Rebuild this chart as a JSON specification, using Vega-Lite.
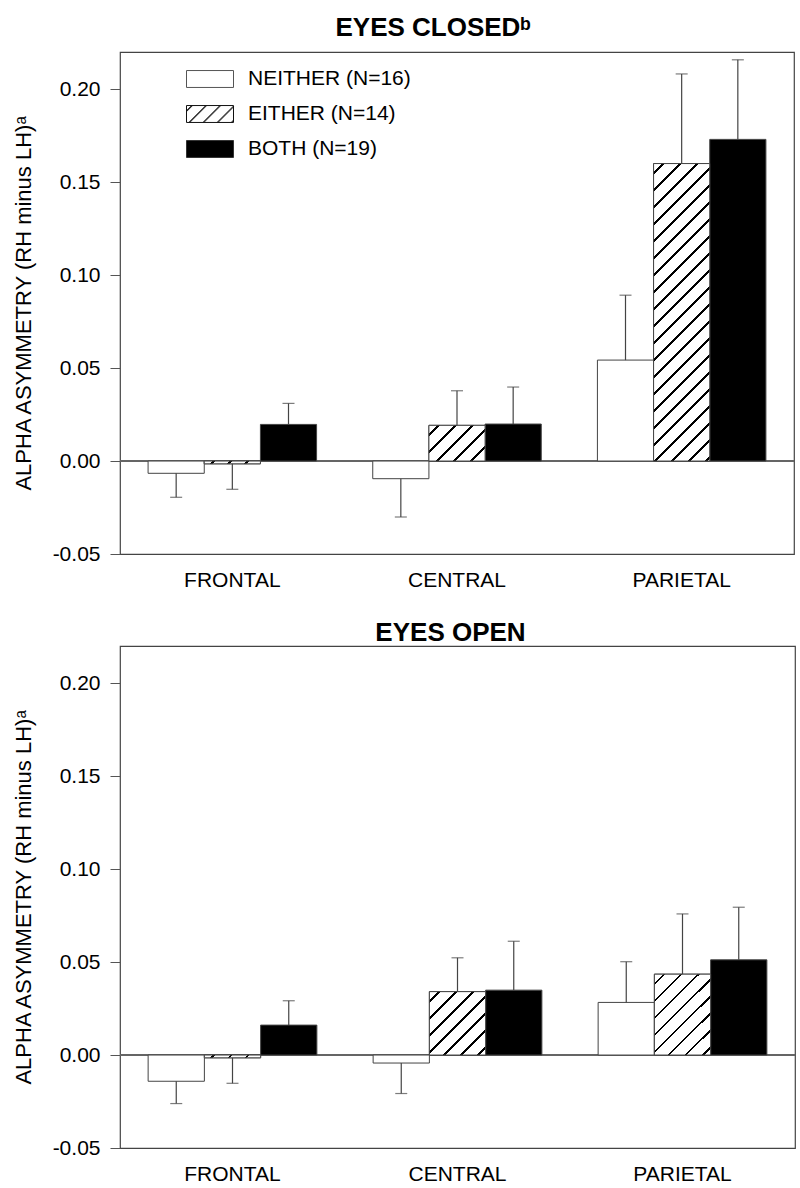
{
"$schema": "https://vega.github.io/schema/vega-lite/v6.json",
"padding": {"left": 11, "top": 14, "right": 5, "bottom": 5},
"config": {
 "font": "Liberation Sans",
 "view": {"stroke": "#444", "strokeWidth": 1.2},
 "title": {"fontSize": 26, "fontWeight": "bold", "color": "#000", "baseline": "alphabetic"},
 "axisY": {"tickSize": 10, "tickColor": "#555", "tickWidth": 1, "labelFontSize": 21, "labelColor": "#000", "labelPadding": 10, "titleFontSize": 22, "titleFontWeight": "normal", "titleColor": "#000", "titlePadding": 17, "labelFlush": false, "labelOverlap": false, "domain": false, "grid": false},
 "axisX": {"ticks": false, "tickSize": 0, "labelFontSize": 21, "labelColor": "#000", "labelPadding": 15, "labelAngle": 0, "domain": false, "grid": false}
},
"data": {"values": [
 {"panel": "closed", "region": "FRONTAL", "group": "NEITHER (N=16)", "mean": -0.0066, "errEnd": -0.0195},
 {"panel": "closed", "region": "FRONTAL", "group": "EITHER (N=14)", "mean": -0.0015, "errEnd": -0.0152},
 {"panel": "closed", "region": "FRONTAL", "group": "BOTH (N=19)", "mean": 0.0197, "errEnd": 0.0310},
 {"panel": "closed", "region": "CENTRAL", "group": "NEITHER (N=16)", "mean": -0.0095, "errEnd": -0.0301},
 {"panel": "closed", "region": "CENTRAL", "group": "EITHER (N=14)", "mean": 0.0192, "errEnd": 0.0378},
 {"panel": "closed", "region": "CENTRAL", "group": "BOTH (N=19)", "mean": 0.0199, "errEnd": 0.0398},
 {"panel": "closed", "region": "PARIETAL", "group": "NEITHER (N=16)", "mean": 0.0543, "errEnd": 0.0892},
 {"panel": "closed", "region": "PARIETAL", "group": "EITHER (N=14)", "mean": 0.1600, "errEnd": 0.2082},
 {"panel": "closed", "region": "PARIETAL", "group": "BOTH (N=19)", "mean": 0.1730, "errEnd": 0.2158},
 {"panel": "open", "region": "FRONTAL", "group": "NEITHER (N=16)", "mean": -0.0141, "errEnd": -0.0261},
 {"panel": "open", "region": "FRONTAL", "group": "EITHER (N=14)", "mean": -0.0015, "errEnd": -0.0152},
 {"panel": "open", "region": "FRONTAL", "group": "BOTH (N=19)", "mean": 0.0161, "errEnd": 0.0292},
 {"panel": "open", "region": "CENTRAL", "group": "NEITHER (N=16)", "mean": -0.0043, "errEnd": -0.0207},
 {"panel": "open", "region": "CENTRAL", "group": "EITHER (N=14)", "mean": 0.0341, "errEnd": 0.0523},
 {"panel": "open", "region": "CENTRAL", "group": "BOTH (N=19)", "mean": 0.0349, "errEnd": 0.0612},
 {"panel": "open", "region": "PARIETAL", "group": "NEITHER (N=16)", "mean": 0.0283, "errEnd": 0.0502},
 {"panel": "open", "region": "PARIETAL", "group": "EITHER (N=14)", "mean": 0.0435, "errEnd": 0.0759},
 {"panel": "open", "region": "PARIETAL", "group": "BOTH (N=19)", "mean": 0.0512, "errEnd": 0.0795}
]},
"spacing": 28,
"resolve": {"scale": {"fill": "independent", "shape": "independent", "stroke": "independent", "x": "independent", "y": "independent", "xOffset": "independent"}, "legend": {"fill": "independent", "shape": "independent", "stroke": "independent"}},
"vconcat": [
{
 "width": 674, "height": 502,
 "title": {"text": "EYES CLOSEDᵇ", "offset": 11, "dx": -24},
 "transform": [{"filter": "datum.panel == 'closed'"}],
 "layer": [
  {"mark": {"type": "rule", "color": "#666", "strokeWidth": 1}, "encoding": {"y": {"datum": 0}}},
  {"mark": {"type": "bar", "stroke": "#444", "strokeWidth": 1},
   "encoding": {
    "x": {"field": "region", "type": "nominal", "title": null, "sort": ["FRONTAL", "CENTRAL", "PARIETAL"], "scale": {"domain": ["FRONTAL", "CENTRAL", "PARIETAL"], "paddingInner": 0.25, "paddingOuter": 0.125}},
    "xOffset": {"field": "group", "type": "nominal", "scale": {"domain": ["NEITHER (N=16)", "EITHER (N=14)", "BOTH (N=19)"], "paddingInner": 0, "paddingOuter": 0}},
    "y": {"field": "mean", "type": "quantitative", "title": "ALPHA ASYMMETRY (RH minus LH)ᵃ", "scale": {"domain": [-0.05, 0.22], "nice": false, "zero": false}, "axis": {"values": [-0.05, 0, 0.05, 0.1, 0.15, 0.2], "labelExpr": "replace(format(datum.value, '.2f'), '\u2212', '-')"}},
    "fill": {"condition": {"test": "datum.group == 'BOTH (N=19)'", "value": "#000"}, "value": "#fff"}
   }},
  {"mark": {"type": "point", "filled": true, "size": 0, "strokeWidth": 1, "opacity": 1},
   "encoding": {
    "fill": {"field": "group", "type": "nominal", "scale": {"domain": ["NEITHER (N=16)", "EITHER (N=14)", "BOTH (N=19)"], "range": ["#fff", "#fff", "#000"]},
     "legend": {"title": null, "orient": "none", "legendX": 66, "legendY": 3, "symbolSize": 2209, "symbolStrokeWidth": 1, "symbolOpacity": 1, "labelFontSize": 21, "labelColor": "#000", "labelOffset": 14, "labelLimit": 400, "rowPadding": -21}},
    "shape": {"field": "group", "type": "nominal", "scale": {"domain": ["NEITHER (N=16)", "EITHER (N=14)", "BOTH (N=19)"], "range": ["M-1,-0.36H1V0.36H-1Z", "M-1,-0.36H1V0.36H-1Z M-1,-0.14L-0.78,-0.36 M-1,-0.1L-0.74,-0.36 M-0.9,0.36L-0.18,-0.36 M-0.86,0.36L-0.14,-0.36 M-0.3,0.36L0.42,-0.36 M-0.26,0.36L0.46,-0.36 M0.3,0.36L1,-0.34 M0.34,0.36L1,-0.3 M0.9,0.36L1,0.26 M0.94,0.36L1,0.3", "M-1,-0.36H1V0.36H-1Z"]},
     "legend": {"title": null, "orient": "none", "legendX": 66, "legendY": 3, "symbolSize": 2209, "symbolStrokeWidth": 1, "symbolOpacity": 1, "labelFontSize": 21, "labelColor": "#000", "labelOffset": 14, "labelLimit": 400, "rowPadding": -21}},
    "stroke": {"field": "group", "type": "nominal", "scale": {"domain": ["NEITHER (N=16)", "EITHER (N=14)", "BOTH (N=19)"], "range": ["#555", "#111", "#333"]},
     "legend": {"title": null, "orient": "none", "legendX": 66, "legendY": 3, "symbolSize": 2209, "symbolStrokeWidth": 1, "symbolOpacity": 1, "labelFontSize": 21, "labelColor": "#000", "labelOffset": 14, "labelLimit": 400, "rowPadding": -21}}
   }},
  {"transform": [{"filter": "datum.group == 'EITHER (N=14)' && datum.region == 'FRONTAL'"}],
   "mark": {"type": "bar", "stroke": "#444", "strokeWidth": 1, "fill": {"gradient": "linear", "x1": 0, "y1": 0, "x2": 7.570, "y2": 0.377, "stops": [
      {"offset": 0.02, "color": "#fff"}, {"offset": 0.02, "color": "#000"}, {"offset": 0.0265, "color": "#000"}, {"offset": 0.0265, "color": "#fff"},
      {"offset": 0.06, "color": "#fff"}, {"offset": 0.06, "color": "#000"}, {"offset": 0.0665, "color": "#000"}, {"offset": 0.0665, "color": "#fff"},
      {"offset": 0.1, "color": "#fff"}, {"offset": 0.1, "color": "#000"}, {"offset": 0.1065, "color": "#000"}, {"offset": 0.1065, "color": "#fff"},
      {"offset": 0.14, "color": "#fff"}, {"offset": 0.14, "color": "#000"}, {"offset": 0.1465, "color": "#000"}, {"offset": 0.1465, "color": "#fff"}]}},
   "encoding": {
    "x": {"field": "region", "type": "nominal", "title": null, "sort": ["FRONTAL", "CENTRAL", "PARIETAL"]},
    "xOffset": {"field": "group", "type": "nominal"},
    "y": {"field": "mean", "type": "quantitative", "title": "ALPHA ASYMMETRY (RH minus LH)ᵃ"}
   }},
  {"transform": [{"filter": "datum.group == 'EITHER (N=14)' && datum.region == 'CENTRAL'"}],
   "mark": {"type": "bar", "stroke": "#444", "strokeWidth": 1, "fill": {"gradient": "linear", "x1": 0, "y1": 0, "x2": 5.397, "y2": 3.440, "stops": [
      {"offset": 0.02, "color": "#fff"}, {"offset": 0.02, "color": "#000"}, {"offset": 0.0265, "color": "#000"}, {"offset": 0.0265, "color": "#fff"},
      {"offset": 0.06, "color": "#fff"}, {"offset": 0.06, "color": "#000"}, {"offset": 0.0665, "color": "#000"}, {"offset": 0.0665, "color": "#fff"},
      {"offset": 0.1, "color": "#fff"}, {"offset": 0.1, "color": "#000"}, {"offset": 0.1065, "color": "#000"}, {"offset": 0.1065, "color": "#fff"},
      {"offset": 0.14, "color": "#fff"}, {"offset": 0.14, "color": "#000"}, {"offset": 0.1465, "color": "#000"}, {"offset": 0.1465, "color": "#fff"},
      {"offset": 0.18, "color": "#fff"}, {"offset": 0.18, "color": "#000"}, {"offset": 0.1865, "color": "#000"}, {"offset": 0.1865, "color": "#fff"},
      {"offset": 0.22, "color": "#fff"}, {"offset": 0.22, "color": "#000"}, {"offset": 0.2265, "color": "#000"}, {"offset": 0.2265, "color": "#fff"}]}},
   "encoding": {
    "x": {"field": "region", "type": "nominal", "title": null, "sort": ["FRONTAL", "CENTRAL", "PARIETAL"]},
    "xOffset": {"field": "group", "type": "nominal"},
    "y": {"field": "mean", "type": "quantitative", "title": "ALPHA ASYMMETRY (RH minus LH)ᵃ"}
   }},
  {"transform": [{"filter": "datum.group == 'EITHER (N=14)' && datum.region == 'PARIETAL'"}],
   "mark": {"type": "bar", "stroke": "#444", "strokeWidth": 1, "fill": {"gradient": "linear", "x1": 0, "y1": 0, "x2": 0.2599, "y2": 1.3801, "stops": [
      {"offset": 0.02, "color": "#fff"}, {"offset": 0.02, "color": "#000"}, {"offset": 0.0265, "color": "#000"}, {"offset": 0.0265, "color": "#fff"},
      {"offset": 0.06, "color": "#fff"}, {"offset": 0.06, "color": "#000"}, {"offset": 0.0665, "color": "#000"}, {"offset": 0.0665, "color": "#fff"},
      {"offset": 0.1, "color": "#fff"}, {"offset": 0.1, "color": "#000"}, {"offset": 0.1065, "color": "#000"}, {"offset": 0.1065, "color": "#fff"},
      {"offset": 0.14, "color": "#fff"}, {"offset": 0.14, "color": "#000"}, {"offset": 0.1465, "color": "#000"}, {"offset": 0.1465, "color": "#fff"},
      {"offset": 0.18, "color": "#fff"}, {"offset": 0.18, "color": "#000"}, {"offset": 0.1865, "color": "#000"}, {"offset": 0.1865, "color": "#fff"},
      {"offset": 0.22, "color": "#fff"}, {"offset": 0.22, "color": "#000"}, {"offset": 0.2265, "color": "#000"}, {"offset": 0.2265, "color": "#fff"},
      {"offset": 0.26, "color": "#fff"}, {"offset": 0.26, "color": "#000"}, {"offset": 0.2665, "color": "#000"}, {"offset": 0.2665, "color": "#fff"},
      {"offset": 0.3, "color": "#fff"}, {"offset": 0.3, "color": "#000"}, {"offset": 0.3065, "color": "#000"}, {"offset": 0.3065, "color": "#fff"},
      {"offset": 0.34, "color": "#fff"}, {"offset": 0.34, "color": "#000"}, {"offset": 0.3465, "color": "#000"}, {"offset": 0.3465, "color": "#fff"},
      {"offset": 0.38, "color": "#fff"}, {"offset": 0.38, "color": "#000"}, {"offset": 0.3865, "color": "#000"}, {"offset": 0.3865, "color": "#fff"},
      {"offset": 0.42, "color": "#fff"}, {"offset": 0.42, "color": "#000"}, {"offset": 0.4265, "color": "#000"}, {"offset": 0.4265, "color": "#fff"},
      {"offset": 0.46, "color": "#fff"}, {"offset": 0.46, "color": "#000"}, {"offset": 0.4665, "color": "#000"}, {"offset": 0.4665, "color": "#fff"},
      {"offset": 0.5, "color": "#fff"}, {"offset": 0.5, "color": "#000"}, {"offset": 0.5065, "color": "#000"}, {"offset": 0.5065, "color": "#fff"},
      {"offset": 0.54, "color": "#fff"}, {"offset": 0.54, "color": "#000"}, {"offset": 0.5465, "color": "#000"}, {"offset": 0.5465, "color": "#fff"},
      {"offset": 0.58, "color": "#fff"}, {"offset": 0.58, "color": "#000"}, {"offset": 0.5865, "color": "#000"}, {"offset": 0.5865, "color": "#fff"},
      {"offset": 0.62, "color": "#fff"}, {"offset": 0.62, "color": "#000"}, {"offset": 0.6265, "color": "#000"}, {"offset": 0.6265, "color": "#fff"},
      {"offset": 0.66, "color": "#fff"}, {"offset": 0.66, "color": "#000"}, {"offset": 0.6665, "color": "#000"}, {"offset": 0.6665, "color": "#fff"},
      {"offset": 0.7, "color": "#fff"}, {"offset": 0.7, "color": "#000"}, {"offset": 0.7065, "color": "#000"}, {"offset": 0.7065, "color": "#fff"},
      {"offset": 0.74, "color": "#fff"}, {"offset": 0.74, "color": "#000"}, {"offset": 0.7465, "color": "#000"}, {"offset": 0.7465, "color": "#fff"},
      {"offset": 0.78, "color": "#fff"}, {"offset": 0.78, "color": "#000"}, {"offset": 0.7865, "color": "#000"}, {"offset": 0.7865, "color": "#fff"},
      {"offset": 0.82, "color": "#fff"}, {"offset": 0.82, "color": "#000"}, {"offset": 0.8265, "color": "#000"}, {"offset": 0.8265, "color": "#fff"}]}},
   "encoding": {
    "x": {"field": "region", "type": "nominal", "title": null, "sort": ["FRONTAL", "CENTRAL", "PARIETAL"]},
    "xOffset": {"field": "group", "type": "nominal"},
    "y": {"field": "mean", "type": "quantitative", "title": "ALPHA ASYMMETRY (RH minus LH)ᵃ"}
   }},
  {"mark": {"type": "rule", "color": "#444", "strokeWidth": 1.2},
   "encoding": {
    "x": {"field": "region", "type": "nominal", "title": null, "sort": ["FRONTAL", "CENTRAL", "PARIETAL"]},
    "xOffset": {"field": "group", "type": "nominal"},
    "y": {"field": "mean", "type": "quantitative", "title": "ALPHA ASYMMETRY (RH minus LH)ᵃ"},
    "y2": {"field": "errEnd"}
   }},
  {"mark": {"type": "tick", "color": "#444", "thickness": 1.2, "size": 12},
   "encoding": {
    "x": {"field": "region", "type": "nominal", "title": null, "sort": ["FRONTAL", "CENTRAL", "PARIETAL"]},
    "xOffset": {"field": "group", "type": "nominal"},
    "y": {"field": "errEnd", "type": "quantitative", "title": "ALPHA ASYMMETRY (RH minus LH)ᵃ"}
   }}
 ]
},
{
 "width": 675, "height": 502,
 "title": {"text": "EYES OPEN", "offset": 0, "dx": -7},
 "transform": [{"filter": "datum.panel == 'open'"}],
 "layer": [
  {"mark": {"type": "rule", "color": "#666", "strokeWidth": 1}, "encoding": {"y": {"datum": 0}}},
  {"mark": {"type": "bar", "stroke": "#444", "strokeWidth": 1},
   "encoding": {
    "x": {"field": "region", "type": "nominal", "title": null, "sort": ["FRONTAL", "CENTRAL", "PARIETAL"], "scale": {"domain": ["FRONTAL", "CENTRAL", "PARIETAL"], "paddingInner": 0.25, "paddingOuter": 0.125}},
    "xOffset": {"field": "group", "type": "nominal", "scale": {"domain": ["NEITHER (N=16)", "EITHER (N=14)", "BOTH (N=19)"], "paddingInner": 0, "paddingOuter": 0}},
    "y": {"field": "mean", "type": "quantitative", "title": "ALPHA ASYMMETRY (RH minus LH)ᵃ", "scale": {"domain": [-0.05, 0.22], "nice": false, "zero": false}, "axis": {"values": [-0.05, 0, 0.05, 0.1, 0.15, 0.2], "labelExpr": "replace(format(datum.value, '.2f'), '\u2212', '-')"}},
    "fill": {"condition": {"test": "datum.group == 'BOTH (N=19)'", "value": "#000"}, "value": "#fff"}
   }},
  {"transform": [{"filter": "datum.group == 'EITHER (N=14)' && datum.region == 'FRONTAL'"}],
   "mark": {"type": "bar", "stroke": "#444", "strokeWidth": 1, "fill": {"gradient": "linear", "x1": 0, "y1": 0, "x2": 7.570, "y2": 0.377, "stops": [
      {"offset": 0.02, "color": "#fff"}, {"offset": 0.02, "color": "#000"}, {"offset": 0.0265, "color": "#000"}, {"offset": 0.0265, "color": "#fff"},
      {"offset": 0.06, "color": "#fff"}, {"offset": 0.06, "color": "#000"}, {"offset": 0.0665, "color": "#000"}, {"offset": 0.0665, "color": "#fff"},
      {"offset": 0.1, "color": "#fff"}, {"offset": 0.1, "color": "#000"}, {"offset": 0.1065, "color": "#000"}, {"offset": 0.1065, "color": "#fff"},
      {"offset": 0.14, "color": "#fff"}, {"offset": 0.14, "color": "#000"}, {"offset": 0.1465, "color": "#000"}, {"offset": 0.1465, "color": "#fff"}]}},
   "encoding": {
    "x": {"field": "region", "type": "nominal", "title": null, "sort": ["FRONTAL", "CENTRAL", "PARIETAL"]},
    "xOffset": {"field": "group", "type": "nominal"},
    "y": {"field": "mean", "type": "quantitative", "title": "ALPHA ASYMMETRY (RH minus LH)ᵃ"}
   }},
  {"transform": [{"filter": "datum.group == 'EITHER (N=14)' && datum.region == 'CENTRAL'"}],
   "mark": {"type": "bar", "stroke": "#444", "strokeWidth": 1, "fill": {"gradient": "linear", "x1": 0, "y1": 0, "x2": 3.326, "y2": 3.765, "stops": [
      {"offset": 0.02, "color": "#fff"}, {"offset": 0.02, "color": "#000"}, {"offset": 0.0265, "color": "#000"}, {"offset": 0.0265, "color": "#fff"},
      {"offset": 0.06, "color": "#fff"}, {"offset": 0.06, "color": "#000"}, {"offset": 0.0665, "color": "#000"}, {"offset": 0.0665, "color": "#fff"},
      {"offset": 0.1, "color": "#fff"}, {"offset": 0.1, "color": "#000"}, {"offset": 0.1065, "color": "#000"}, {"offset": 0.1065, "color": "#fff"},
      {"offset": 0.14, "color": "#fff"}, {"offset": 0.14, "color": "#000"}, {"offset": 0.1465, "color": "#000"}, {"offset": 0.1465, "color": "#fff"},
      {"offset": 0.18, "color": "#fff"}, {"offset": 0.18, "color": "#000"}, {"offset": 0.1865, "color": "#000"}, {"offset": 0.1865, "color": "#fff"},
      {"offset": 0.22, "color": "#fff"}, {"offset": 0.22, "color": "#000"}, {"offset": 0.2265, "color": "#000"}, {"offset": 0.2265, "color": "#fff"},
      {"offset": 0.26, "color": "#fff"}, {"offset": 0.26, "color": "#000"}, {"offset": 0.2665, "color": "#000"}, {"offset": 0.2665, "color": "#fff"}]}},
   "encoding": {
    "x": {"field": "region", "type": "nominal", "title": null, "sort": ["FRONTAL", "CENTRAL", "PARIETAL"]},
    "xOffset": {"field": "group", "type": "nominal"},
    "y": {"field": "mean", "type": "quantitative", "title": "ALPHA ASYMMETRY (RH minus LH)ᵃ"}
   }},
  {"transform": [{"filter": "datum.group == 'EITHER (N=14)' && datum.region == 'PARIETAL'"}],
   "mark": {"type": "bar", "stroke": "#444", "strokeWidth": 1, "fill": {"gradient": "linear", "x1": 0, "y1": 0, "x2": 2.458, "y2": 3.552, "stops": [
      {"offset": 0.02, "color": "#fff"}, {"offset": 0.02, "color": "#000"}, {"offset": 0.0265, "color": "#000"}, {"offset": 0.0265, "color": "#fff"},
      {"offset": 0.06, "color": "#fff"}, {"offset": 0.06, "color": "#000"}, {"offset": 0.0665, "color": "#000"}, {"offset": 0.0665, "color": "#fff"},
      {"offset": 0.1, "color": "#fff"}, {"offset": 0.1, "color": "#000"}, {"offset": 0.1065, "color": "#000"}, {"offset": 0.1065, "color": "#fff"},
      {"offset": 0.14, "color": "#fff"}, {"offset": 0.14, "color": "#000"}, {"offset": 0.1465, "color": "#000"}, {"offset": 0.1465, "color": "#fff"},
      {"offset": 0.18, "color": "#fff"}, {"offset": 0.18, "color": "#000"}, {"offset": 0.1865, "color": "#000"}, {"offset": 0.1865, "color": "#fff"},
      {"offset": 0.22, "color": "#fff"}, {"offset": 0.22, "color": "#000"}, {"offset": 0.2265, "color": "#000"}, {"offset": 0.2265, "color": "#fff"},
      {"offset": 0.26, "color": "#fff"}, {"offset": 0.26, "color": "#000"}, {"offset": 0.2665, "color": "#000"}, {"offset": 0.2665, "color": "#fff"},
      {"offset": 0.3, "color": "#fff"}, {"offset": 0.3, "color": "#000"}, {"offset": 0.3065, "color": "#000"}, {"offset": 0.3065, "color": "#fff"}]}},
   "encoding": {
    "x": {"field": "region", "type": "nominal", "title": null, "sort": ["FRONTAL", "CENTRAL", "PARIETAL"]},
    "xOffset": {"field": "group", "type": "nominal"},
    "y": {"field": "mean", "type": "quantitative", "title": "ALPHA ASYMMETRY (RH minus LH)ᵃ"}
   }},
  {"mark": {"type": "rule", "color": "#444", "strokeWidth": 1.2},
   "encoding": {
    "x": {"field": "region", "type": "nominal", "title": null, "sort": ["FRONTAL", "CENTRAL", "PARIETAL"]},
    "xOffset": {"field": "group", "type": "nominal"},
    "y": {"field": "mean", "type": "quantitative", "title": "ALPHA ASYMMETRY (RH minus LH)ᵃ"},
    "y2": {"field": "errEnd"}
   }},
  {"mark": {"type": "tick", "color": "#444", "thickness": 1.2, "size": 12},
   "encoding": {
    "x": {"field": "region", "type": "nominal", "title": null, "sort": ["FRONTAL", "CENTRAL", "PARIETAL"]},
    "xOffset": {"field": "group", "type": "nominal"},
    "y": {"field": "errEnd", "type": "quantitative", "title": "ALPHA ASYMMETRY (RH minus LH)ᵃ"}
   }}
 ]
}
]
}
